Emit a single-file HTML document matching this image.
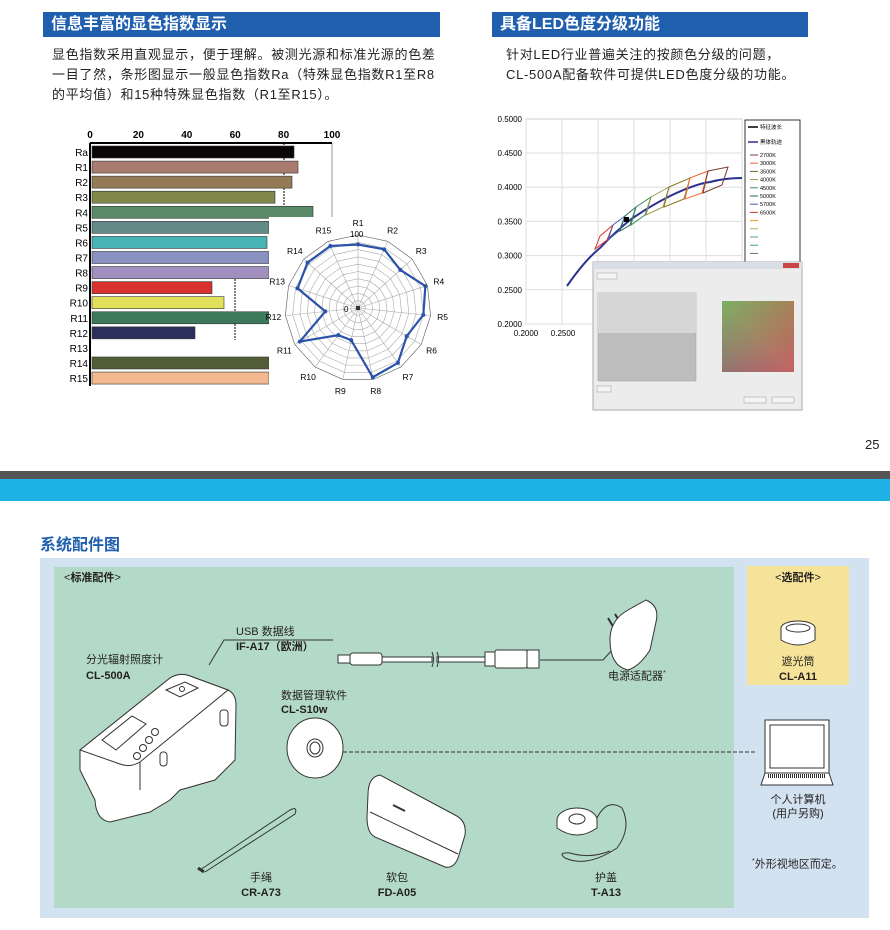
<!DOCTYPE html>
<html><head><meta charset="utf-8">
<style>
*{margin:0;padding:0;box-sizing:border-box}
body{width:890px;height:930px;background:#fff;position:relative;overflow:hidden;font-family:"Liberation Sans","Noto Sans CJK SC",sans-serif;color:#231f20}
.abs{position:absolute}
.hdr{position:absolute;background:#1f5fae;color:#fff;font-weight:bold;font-size:16px;line-height:25px;padding-left:8px}
.body{position:absolute;font-size:13px;line-height:20px;color:#231f20;letter-spacing:0.7px;white-space:nowrap}
.t{position:absolute;font-size:11px;line-height:14px;white-space:nowrap}
.c{text-align:center}
b{font-weight:bold}
</style></head><body>
<div class="hdr" style="left:43px;top:12px;width:397px;height:25px">信息丰富的显色指数显示</div>
<div class="hdr" style="left:492px;top:12px;width:316px;height:25px">具备LED色度分级功能</div>
<div class="body" style="left:52px;top:45px;width:400px">显色指数采用直观显示，便于理解。被测光源和标准光源的色差<br>一目了然，条形图显示一般显色指数Ra（特殊显色指数R1至R8<br>的平均值）和15种特殊显色指数（R1至R15）。</div>
<div class="body" style="left:506px;top:45px;width:340px">针对LED行业普遍关注的按颜色分级的问题，<br>CL-500A配备软件可提供LED色度分级的功能。</div>
<div class="t" style="left:865px;top:438px;font-size:13px">25</div>

<svg class="abs" style="left:0;top:0" width="890" height="460" id="top" font-family="Liberation Sans, sans-serif">
</svg>

<div class="abs" style="left:0;top:471px;width:890px;height:8px;background:#555"></div>
<div class="abs" style="left:0;top:479px;width:890px;height:22px;background:#1eb2e6"></div>
<div class="abs" style="left:40px;top:531px;font-size:16px;font-weight:bold;color:#1f5fae">系统配件图</div>
<div class="abs" style="left:40px;top:558px;width:829px;height:360px;background:#d3e2f1"></div>
<div class="abs" style="left:54px;top:567px;width:680px;height:341px;background:#b3dac8"></div>
<div class="abs" style="left:747px;top:566px;width:102px;height:119px;background:#f6e39a"></div>

<svg class="abs" style="left:0;top:460px" width="890" height="470" fill="none" stroke="#333" stroke-width="1">
<g transform="translate(0,-460)">
<polyline points="209,665 224,640 333,640"/>
<line x1="343" y1="752" x2="755" y2="752" stroke-dasharray="4,2"/>
<polyline points="540,660 603,660 612,650"/>
<rect x="338" y="655" width="12" height="8" fill="#fff"/>
<rect x="350" y="653" width="32" height="12" rx="3" fill="#fff"/>
<rect x="382" y="657" width="50" height="5" fill="#fff"/>
<rect x="437" y="657" width="48" height="5" fill="#fff"/>
<path d="M432 652 q3 7 0 15 M437 652 q3 7 0 15"/>
<rect x="485" y="652" width="10" height="14" fill="#fff"/>
<rect x="495" y="650" width="32" height="18" rx="2" fill="#fff"/>
<rect x="527" y="650" width="12" height="18" fill="#fff"/>
<!-- adapter -->
<path d="M614 628 l-6 -10 M621 624 l-6 -10" stroke-width="2"/>
<path d="M610 640 q0 -20 18 -30 l18 -10 q14 6 10 22 l-6 28 q-10 16 -22 20 q-18 -4 -18 -30z" fill="#fff"/>
<!-- hood -->
<ellipse cx="798" cy="628" rx="17" ry="7" fill="#fff"/>
<path d="M781 628 v12 q17 10 34 0 v-12" fill="#fff"/>
<ellipse cx="798" cy="628" rx="12" ry="4"/>
<!-- device -->
<path d="M80 770 L80 750 L170 678 Q180 672 190 676 L228 690 Q236 694 236 705 L235 760 L225 770 L215 780 L180 790 L170 800 L150 812 L110 822 Q96 820 95 800 Z" fill="#fff"/>
<path d="M80 750 L170 678 Q180 672 190 676 L228 690 L140 762 Q130 768 120 764 Z" fill="#fff"/>
<path d="M140 762 L140 790"/>
<path d="M102 740 L132 716 L146 724 L116 750 Z" fill="#fff"/>
<circle cx="155" cy="732" r="3.5"/><circle cx="149" cy="740" r="3.5"/><circle cx="143" cy="748" r="3.5"/><circle cx="137" cy="756" r="3.5"/>
<path d="M166 690 L185 682 L198 688 L180 697 Z" fill="#fff"/><circle cx="182" cy="689" r="2.5"/>
<rect x="220" y="710" width="8" height="16" rx="3"/>
<rect x="160" y="752" width="7" height="14" rx="3"/>
<!-- CD -->
<ellipse cx="315" cy="748" rx="28" ry="30" fill="#fff"/>
<ellipse cx="315" cy="748" rx="8" ry="9"/><ellipse cx="315" cy="748" rx="5" ry="6"/>
<!-- strap -->
<path d="M200 870 L290 810 q8 -4 5 4 L205 872" />
<path d="M198 868 l6 4" stroke-width="3"/>
<!-- bag -->
<path d="M368 795 q0 -18 12 -20 l75 40 q12 6 10 20 l-6 20 q-4 14 -14 12 l-70 -30 q-8 -4 -8 -20z" fill="#fff"/>
<path d="M370 812 l88 42"/>
<path d="M393 805 l12 6" stroke-width="2"/>
<!-- cap -->
<ellipse cx="577" cy="820" rx="20" ry="12" fill="#fff"/>
<path d="M557 820 v8 q20 14 40 0 v-8" fill="#fff"/>
<ellipse cx="577" cy="819" rx="8" ry="5"/>
<path d="M597 818 q10 -20 25 -10 q10 20 -5 40 q-30 20 -52 10 q-8 -6 5 -5 q20 6 40 -2"/>
<!-- laptop -->
<rect x="765" y="720" width="64" height="53" fill="#fff"/>
<rect x="770" y="725" width="54" height="43"/>
<path d="M765 773 l-4 12 h72 l-4 -12z" fill="#fff"/>
<path d="M768 776 h58" stroke-dasharray="1,1" stroke-width="4"/>
</g>
</svg>

<div class="t" style="left:64px;top:571px">&lt;<b>标准配件</b>&gt;</div>
<div class="t c" style="left:747px;top:571px;width:102px">&lt;<b>选配件</b>&gt;</div>
<div class="t" style="left:236px;top:625px">USB 数据线</div>
<div class="t" style="left:236px;top:640px"><b>IF-A17（欧洲）</b></div>
<div class="t" style="left:86px;top:653px">分光辐射照度计</div>
<div class="t" style="left:86px;top:669px"><b>CL-500A</b></div>
<div class="t" style="left:281px;top:689px">数据管理软件</div>
<div class="t" style="left:281px;top:703px"><b>CL-S10w</b></div>
<div class="t" style="left:608px;top:667px">电源适配器<sup style="font-size:7px">*</sup></div>
<div class="t c" style="left:747px;top:655px;width:102px">遮光筒</div>
<div class="t c" style="left:747px;top:670px;width:102px"><b>CL-A11</b></div>
<div class="t c" style="left:747px;top:793px;width:102px">个人计算机</div>
<div class="t c" style="left:747px;top:807px;width:102px">(用户另购)</div>
<div class="t" style="left:752px;top:855px"><sup style="font-size:7px">*</sup>外形视地区而定。</div>
<div class="t c" style="left:221px;top:871px;width:80px">手绳</div>
<div class="t c" style="left:221px;top:886px;width:80px"><b>CR-A73</b></div>
<div class="t c" style="left:357px;top:871px;width:80px">软包</div>
<div class="t c" style="left:357px;top:886px;width:80px"><b>FD-A05</b></div>
<div class="t c" style="left:566px;top:871px;width:80px">护盖</div>
<div class="t c" style="left:566px;top:886px;width:80px"><b>T-A13</b></div>

<script>
var s='';
var X0=90;
[0,20,40,60,80,100].forEach(function(v){s+='<text x="'+(X0+v*2.42)+'" y="138" font-size="10" font-weight="bold" text-anchor="middle">'+v+'</text>';});
s+='<line x1="284" y1="143" x2="284" y2="262" stroke="#000" stroke-dasharray="2,1"/><line x1="332" y1="143" x2="332" y2="217" stroke="#999"/>';
s+='<line x1="90" y1="143" x2="332" y2="143" stroke="#000" stroke-width="2"/><line x1="90" y1="143" x2="90" y2="386" stroke="#000" stroke-width="2"/>';
s+='<line x1="235" y1="270" x2="235" y2="340" stroke="#000" stroke-dasharray="2,1"/>';
var labs=['Ra','R1','R2','R3','R4','R5','R6','R7','R8','R9','R10','R11','R12','R13','R14','R15'];
var ends=[294,298,292,275,313,269,267,269,269,212,224,269,195,0,269,269];
var cols=['#0a0606','#a97a6f','#947a55','#80884c','#5b8a68','#638a86','#46b4b4','#8891c0','#a08fbf','#d93030','#e0e05a','#3d7a5c','#2c2f5a','#fff','#525e38','#f4b991'];
for(var i=0;i<16;i++){var c=152+i*15.07;
s+='<text x="88" y="'+(c+4)+'" font-size="10" text-anchor="end">'+labs[i]+'</text>';
if(ends[i])s+='<rect x="92" y="'+(c-6)+'" width="'+(ends[i]-92)+'" height="12" fill="'+cols[i]+'" stroke="#333" stroke-width="0.6"/>';}
s+='<rect x="269" y="217" width="185" height="175" fill="#fff"/>';
var cx=358,cy=308,R=73,n=15;
function pt(k,r){var a=-Math.PI/2+k*2*Math.PI/n;return [cx+r*Math.cos(a),cy+r*Math.sin(a)];}
for(var g=1;g<=10;g++){var p=[];for(var k=0;k<n;k++)p.push(pt(k,R*g/10).join(','));s+='<polygon points="'+p.join(' ')+'" fill="none" stroke="'+(g==10?'#555':'#aaa')+'" stroke-width="0.6"/>';}
for(var k=0;k<n;k++){var q=pt(k,R);s+='<line x1="'+cx+'" y1="'+cy+'" x2="'+q[0]+'" y2="'+q[1]+'" stroke="#aaa" stroke-width="0.6"/>';
var l=pt(k,R+12);s+='<text x="'+l[0]+'" y="'+(l[1]+3)+'" font-size="8.5" text-anchor="middle">R'+(k+1)+'</text>';}
var vals=[.87,.88,.78,.97,.9,.77,.93,.97,.45,.46,.92,.45,.87,.93,.93],pp=[];
for(var k=0;k<n;k++)pp.push(pt(k,R*vals[k]).join(','));
s+='<polygon points="'+pp.join(' ')+'" fill="none" stroke="#2a52a8" stroke-width="2.2"/>';
pp.forEach(function(p){var a=p.split(',');s+='<circle cx="'+a[0]+'" cy="'+a[1]+'" r="2" fill="#2a52a8"/>';});
s+='<text x="350" y="237" font-size="8">100</text><text x="344" y="312" font-size="8">0</text><rect x="356" y="306" width="4" height="4" fill="#333"/>';
var py=function(y){return 324-(y-0.2)*684};
s+='<rect x="526" y="119" width="216" height="205" fill="#fff" stroke="#999" stroke-width="0.6"/>';
for(var i=0;i<=6;i++){var yy=py(0.2+i*0.05);s+='<line x1="526" x2="742" y1="'+yy+'" y2="'+yy+'" stroke="#ddd"/><text x="522" y="'+(yy+3)+'" font-size="8" text-anchor="end">'+(0.2+i*0.05).toFixed(4)+'</text>';}
for(var i=0;i<=6;i++){var xx=526+i*36;s+='<line y1="119" y2="324" x1="'+xx+'" x2="'+xx+'" stroke="#ddd"/>';}
s+='<text x="526" y="336" font-size="8" text-anchor="middle">0.2000</text><text x="563" y="336" font-size="8" text-anchor="middle">0.2500</text>';
s+='<path d="M567 286 Q585 260 600 248 Q615 232 630 220 Q650 206 670 196 Q695 184 710 182 Q725 178 742 178" fill="none" stroke="#2a3190" stroke-width="2"/>';
var qc=['#e03030','#4a60b0','#2a6a5a','#3a8a5a','#9a9a50','#8a7a20','#f06a30','#7a3a30'];
var xs=[600,613,625,636,651,669,690,708,728];
var yt=[236,225,216,207,197,187,178,171,167];
var yb=[249,240,231,225,215,207,199,193,185];
for(var i=0;i<8;i++){
s+='<polygon points="'+xs[i]+','+yt[i]+' '+xs[i+1]+','+yt[i+1]+' '+(xs[i+1]-6)+','+yb[i+1]+' '+(xs[i]-5)+','+yb[i]+'" fill="none" stroke="'+qc[i]+'" stroke-width="1"/>';}
s+='<rect x="624" y="217" width="5" height="5" fill="#000"/>';
s+='<rect x="745" y="120" width="55" height="145" fill="#fff" stroke="#000" stroke-width="0.8"/>';
s+='<line x1="748" x2="758" y1="127" y2="127" stroke="#000" stroke-width="1.5"/><text x="760" y="129" font-size="5.5">特征波长</text>';
s+='<line x1="748" x2="758" y1="142" y2="142" stroke="#2a3190" stroke-width="1.5"/><text x="760" y="144" font-size="5.5">黑体轨迹</text>';
var lk=['2700K','3000K','3500K','4000K','4500K','5000K','5700K','6500K','','','','',''];var lc=['#7a3a30','#f06a30','#6a6a20','#9a9a50','#3a8a5a','#2a6a5a','#4a60b0','#e03030','#f08a20','#90c050','#50a070','#40a0a0','#806080'];
for(var i=0;i<13;i++){var yy=155+i*8.2;s+='<line x1="750" x2="758" y1="'+yy+'" y2="'+yy+'" stroke="'+lc[i]+'"/><text x="760" y="'+(yy+2)+'" font-size="5.5">'+lk[i]+'</text>';}
s+='<rect x="593" y="262" width="209" height="148" fill="#ececec" stroke="#aaa"/><rect x="593" y="262" width="209" height="7" fill="#d8dde6"/><rect x="783" y="263" width="16" height="5" fill="#c44"/>';
s+='<rect x="597" y="273" width="20" height="6" fill="#f4f4f4" stroke="#999" stroke-width="0.5"/>';
s+='<rect x="598" y="293" width="98" height="88" fill="#bdbdbd" stroke="#999" stroke-width="0.5"/><rect x="598" y="293" width="98" height="40" fill="#d6d6d6"/>';
s+='<defs><linearGradient id="g1" x1="0" y1="1" x2="1" y2="0"><stop offset="0" stop-color="#7b6aa8"/><stop offset="0.5" stop-color="#bbb070"/><stop offset="1" stop-color="#c8a040"/></linearGradient><linearGradient id="g2" x1="0" y1="0" x2="1" y2="1"><stop offset="0" stop-color="#6ab060" stop-opacity="0.8"/><stop offset="1" stop-color="#c84060" stop-opacity="0.7"/></linearGradient></defs>';
s+='<rect x="722" y="301" width="72" height="71" fill="url(#g1)"/><rect x="722" y="301" width="72" height="71" fill="url(#g2)"/>';
s+='<rect x="597" y="386" width="14" height="6" fill="#f4f4f4" stroke="#999" stroke-width="0.5"/><rect x="744" y="397" width="22" height="6" fill="#f4f4f4" stroke="#999" stroke-width="0.5"/><rect x="772" y="397" width="22" height="6" fill="#f4f4f4" stroke="#999" stroke-width="0.5"/>';
document.getElementById('top').innerHTML=s;
</script>
</body></html>
